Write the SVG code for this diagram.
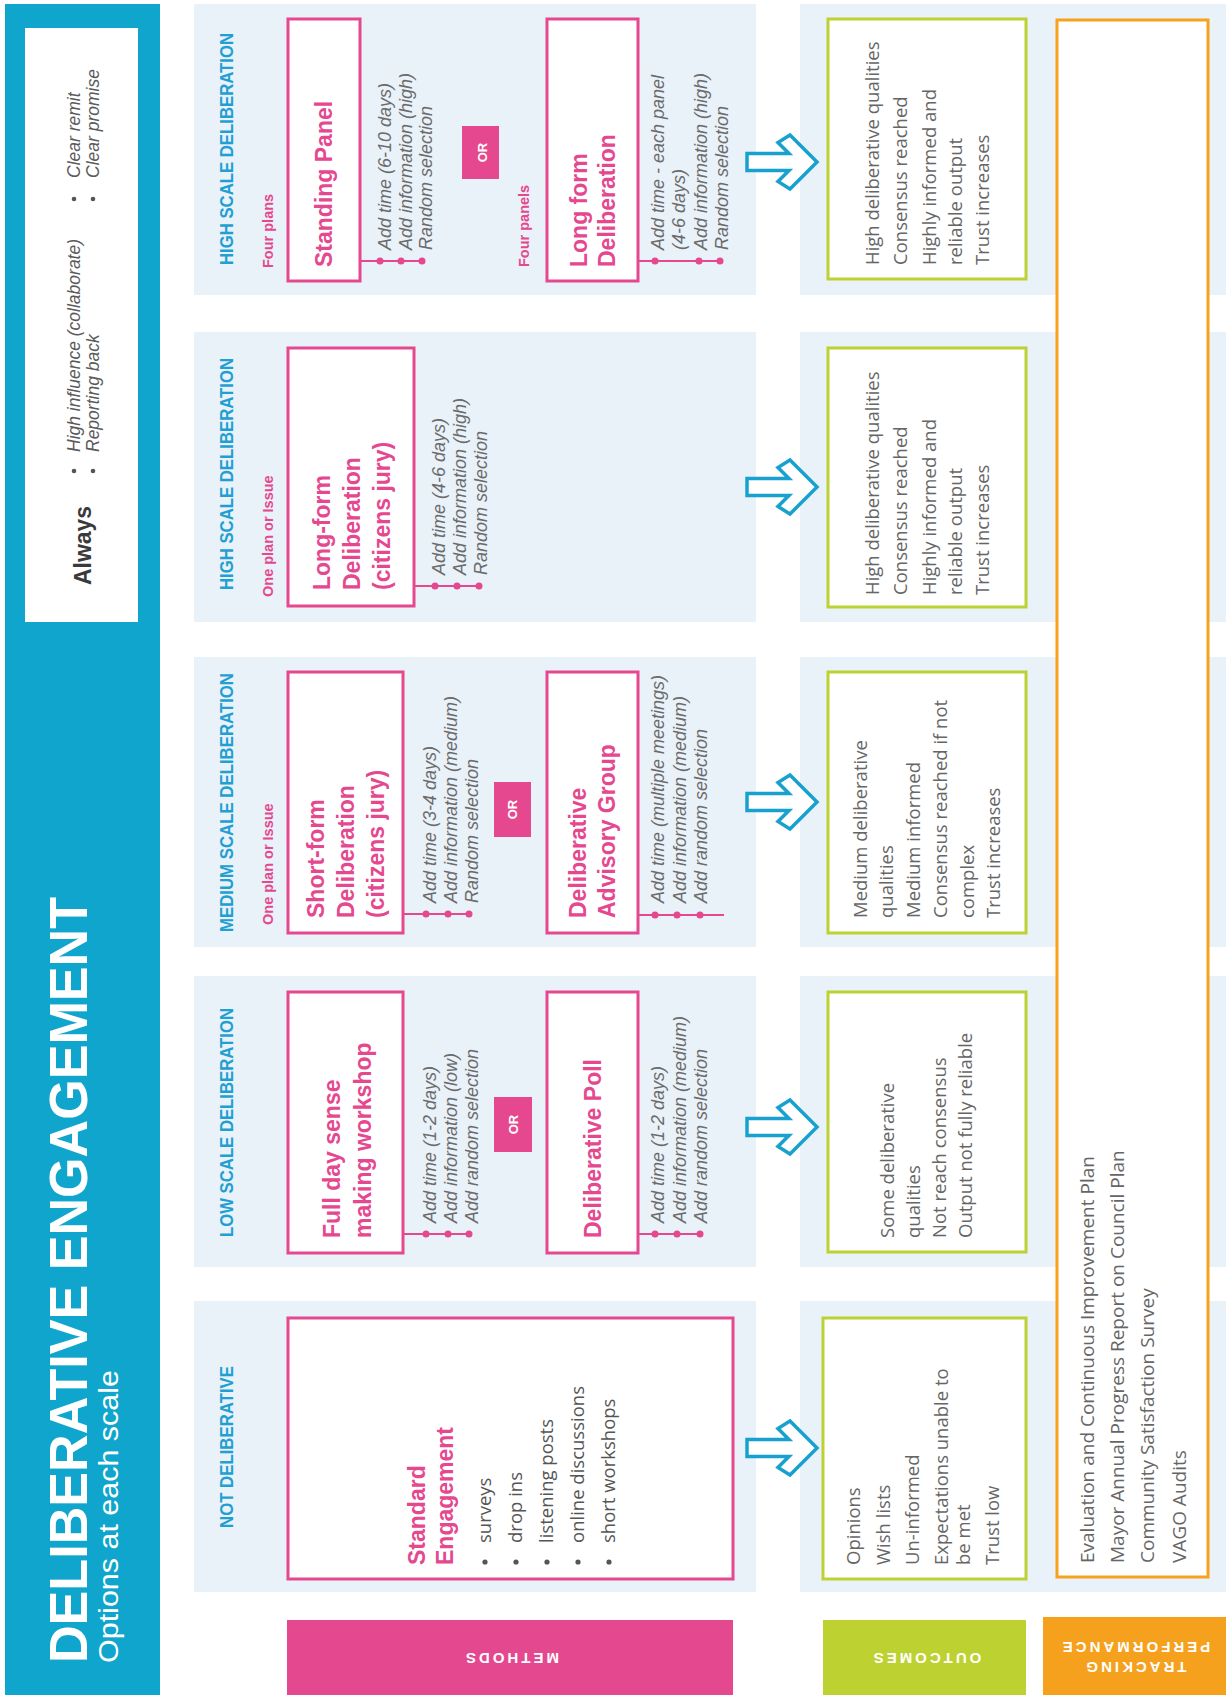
<svg xmlns="http://www.w3.org/2000/svg" width="1226" height="1695" viewBox="0 0 1226 1695">
<defs>
<style>
.panel{fill:#e9f1f9}
.mbox{fill:#fff;stroke:#e5488f;stroke-width:3}
.obox{fill:#fff;stroke:#bcd232;stroke-width:3}
.tbox{fill:#fff;stroke:#f7a21d;stroke-width:3}
.lbl{font-family:"Liberation Sans",Arial,sans-serif;font-weight:bold;font-size:18px;fill:#1f9fd2}
.sub{font-family:"Liberation Sans",Arial,sans-serif;font-weight:bold;font-size:14.5px;fill:#e5488f}
.mt{font-family:"Liberation Sans",Arial,sans-serif;font-weight:bold;font-size:23px;fill:#e5488f}
.att{font-family:"Liberation Sans",Arial,sans-serif;font-style:italic;font-size:18px;fill:#6b6b6b}
.out{font-family:"Open Sans","Liberation Sans",sans-serif;font-size:18.5px;fill:#666}
.li{font-family:"Open Sans","Liberation Sans",sans-serif;font-size:18.5px;fill:#555}
.trk{font-family:"Open Sans","Liberation Sans",sans-serif;font-size:19px;fill:#666}
.alw{font-family:"Liberation Sans",Arial,sans-serif;font-style:italic;font-size:17.5px;fill:#5a5a5a}
.dot{fill:#e5488f}
.gdot{fill:#555}
.conn{stroke:#e5488f;stroke-width:2;fill:none}
.orb{fill:#e5488f}
.ort{font-family:"Liberation Sans",Arial,sans-serif;font-weight:bold;font-size:13px;fill:#fff;text-anchor:middle}
.arr{fill:#fff;stroke:#18a1cf;stroke-width:3.5;stroke-linejoin:miter}
.bar{font-family:"Liberation Sans",Arial,sans-serif;font-weight:bold;font-size:15px;fill:#fff;letter-spacing:3px;text-anchor:middle}
</style>
<path id="arrow" class="arr" d="M0,-8.5 H42 L31,-19.5 L43,-27 L70,0 L43,27 L31,19.5 L42,8.5 H0 Z"/>
</defs>
<rect x="0" y="0" width="1226" height="1695" fill="#fff"/>

<g id="title-bar">
<rect x="5" y="4" width="155" height="1691" fill="#10a5cc"/>
<text transform="translate(87,1663) rotate(-90)" font-family="Liberation Sans, Arial, sans-serif" font-weight="bold" font-size="54" fill="#fff" textLength="766" lengthAdjust="spacingAndGlyphs">DELIBERATIVE ENGAGEMENT</text>
<text transform="translate(118,1663) rotate(-90)" font-family="Liberation Sans, Arial, sans-serif" font-size="27" fill="#fff" textLength="293" lengthAdjust="spacingAndGlyphs">Options at each scale</text>
</g>

<g id="always">
<rect x="25" y="28" width="113" height="594" fill="#fff"/>
<text transform="translate(91,585) rotate(-90)" font-family="Liberation Sans, Arial, sans-serif" font-weight="bold" font-size="24" fill="#3a3a3a" textLength="79" lengthAdjust="spacingAndGlyphs">Always</text>
<circle class="gdot" cx="74" cy="471" r="2.3"/><circle class="gdot" cx="93" cy="471" r="2.3"/>
<circle class="gdot" cx="74" cy="199" r="2.3"/><circle class="gdot" cx="93" cy="199" r="2.3"/>
<text class="alw" transform="translate(80,452) rotate(-90)"><tspan x="0" y="0">High influence (collaborate)</tspan><tspan x="0" y="19">Reporting back</tspan></text>
<text class="alw" transform="translate(80,178) rotate(-90)"><tspan x="0" y="0">Clear remit</tspan><tspan x="0" y="19">Clear promise</tspan></text>
</g>

<g id="panels">
<rect class="panel" x="194" y="4" width="562" height="291"/>
<rect class="panel" x="194" y="332" width="562" height="290"/>
<rect class="panel" x="194" y="657" width="562" height="290"/>
<rect class="panel" x="194" y="976" width="562" height="291"/>
<rect class="panel" x="194" y="1301" width="562" height="291"/>
<rect class="panel" x="800" y="4" width="426" height="291"/>
<rect class="panel" x="800" y="332" width="426" height="290"/>
<rect class="panel" x="800" y="657" width="426" height="290"/>
<rect class="panel" x="800" y="976" width="426" height="291"/>
<rect class="panel" x="800" y="1301" width="426" height="291"/>
</g>

<g id="row-labels">
<text class="lbl" transform="translate(233,265) rotate(-90)" textLength="232" lengthAdjust="spacingAndGlyphs">HIGH SCALE DELIBERATION</text>
<text class="sub" transform="translate(273,268) rotate(-90)">Four plans</text>
<text class="sub" transform="translate(529,267) rotate(-90)">Four panels</text>
<text class="lbl" transform="translate(233,590) rotate(-90)" textLength="232" lengthAdjust="spacingAndGlyphs">HIGH SCALE DELIBERATION</text>
<text class="sub" transform="translate(273,597) rotate(-90)">One plan or Issue</text>
<text class="lbl" transform="translate(233,932) rotate(-90)" textLength="259" lengthAdjust="spacingAndGlyphs">MEDIUM SCALE DELIBERATION</text>
<text class="sub" transform="translate(273,925) rotate(-90)">One plan or Issue</text>
<text class="lbl" transform="translate(233,1237) rotate(-90)" textLength="229" lengthAdjust="spacingAndGlyphs">LOW SCALE DELIBERATION</text>
<text class="lbl" transform="translate(233,1528) rotate(-90)" textLength="162" lengthAdjust="spacingAndGlyphs">NOT DELIBERATIVE</text>
</g>

<g id="standing-panel">
<rect class="mbox" x="288" y="19" width="72" height="262"/>
<text class="mt" transform="translate(332,267) rotate(-90)">Standing Panel</text>
<text class="att" transform="translate(391,250) rotate(-90)"><tspan x="0" y="0">Add time (6-10 days)</tspan><tspan x="0" y="20.5">Add information (high)</tspan><tspan x="0" y="41">Random selection</tspan></text>
</g>
<g id="or-high">
<rect class="orb" x="462" y="126" width="37" height="53"/>
<text class="ort" transform="translate(487,152.5) rotate(-90)">OR</text>
</g>
<g id="long-form-deliberation">
<rect class="mbox" x="547" y="19" width="91" height="262"/>
<text class="mt" transform="translate(587,267) rotate(-90)"><tspan x="0" y="0">Long form</tspan><tspan x="0" y="28">Deliberation</tspan></text>
<text class="att" transform="translate(664,250) rotate(-90)"><tspan x="0" y="0">Add time - each panel</tspan><tspan x="0" y="21">(4-6 days)</tspan><tspan x="0" y="43">Add information (high)</tspan><tspan x="0" y="64">Random selection</tspan></text>
</g>

<g id="long-form-citizens-jury">
<rect class="mbox" x="288" y="348" width="126" height="258"/>
<text class="mt" transform="translate(330,590) rotate(-90)"><tspan x="0" y="0">Long-form</tspan><tspan x="0" y="30">Deliberation</tspan><tspan x="0" y="60">(citizens jury)</tspan></text>
<text class="att" transform="translate(445,575) rotate(-90)"><tspan x="0" y="0">Add time (4-6 days)</tspan><tspan x="0" y="21">Add information (high)</tspan><tspan x="0" y="42">Random selection</tspan></text>
</g>

<g id="short-form-citizens-jury">
<rect class="mbox" x="288" y="672" width="115" height="261"/>
<text class="mt" transform="translate(324,918) rotate(-90)"><tspan x="0" y="0">Short-form</tspan><tspan x="0" y="30">Deliberation</tspan><tspan x="0" y="60">(citizens jury)</tspan></text>
<text class="att" transform="translate(436,903) rotate(-90)"><tspan x="0" y="0">Add time (3-4 days)</tspan><tspan x="0" y="21">Add information (medium)</tspan><tspan x="0" y="42">Random selection</tspan></text>
</g>
<g id="or-medium">
<rect class="orb" x="494" y="782" width="37" height="55"/>
<text class="ort" transform="translate(517,809.5) rotate(-90)">OR</text>
</g>
<g id="deliberative-advisory-group">
<rect class="mbox" x="547" y="672" width="91" height="261"/>
<text class="mt" transform="translate(586,918) rotate(-90)"><tspan x="0" y="0">Deliberative</tspan><tspan x="0" y="29">Advisory Group</tspan></text>
<text class="att" transform="translate(664,903) rotate(-90)"><tspan x="0" y="0">Add time (multiple meetings)</tspan><tspan x="0" y="22">Add information (medium)</tspan><tspan x="0" y="43">Add random selection</tspan></text>
</g>

<g id="full-day-workshop">
<rect class="mbox" x="288" y="992" width="115" height="261"/>
<text class="mt" transform="translate(340,1238) rotate(-90)"><tspan x="0" y="0">Full day sense</tspan><tspan x="0" y="31">making workshop</tspan></text>
<text class="att" transform="translate(436,1223) rotate(-90)"><tspan x="0" y="0">Add time (1-2 days)</tspan><tspan x="0" y="21">Add information (low)</tspan><tspan x="0" y="42">Add random selection</tspan></text>
</g>
<g id="or-low">
<rect class="orb" x="494" y="1097" width="38" height="55"/>
<text class="ort" transform="translate(518,1124.5) rotate(-90)">OR</text>
</g>
<g id="deliberative-poll">
<rect class="mbox" x="547" y="992" width="91" height="261"/>
<text class="mt" transform="translate(601,1238) rotate(-90)">Deliberative Poll</text>
<text class="att" transform="translate(664,1223) rotate(-90)"><tspan x="0" y="0">Add time (1-2 days)</tspan><tspan x="0" y="22">Add information (medium)</tspan><tspan x="0" y="43">Add random selection</tspan></text>
</g>

<g id="standard-engagement">
<rect class="mbox" x="288" y="1318" width="445" height="261"/>
<text class="mt" transform="translate(425,1565) rotate(-90)"><tspan x="0" y="0">Standard</tspan><tspan x="0" y="28">Engagement</tspan></text>
<circle class="gdot" cx="485" cy="1562" r="2.6"/><circle class="gdot" cx="516" cy="1562" r="2.6"/><circle class="gdot" cx="547" cy="1562" r="2.6"/><circle class="gdot" cx="578" cy="1562" r="2.6"/><circle class="gdot" cx="609" cy="1562" r="2.6"/>
<text class="li" transform="translate(491,1543) rotate(-90)"><tspan x="0" y="0">surveys</tspan><tspan x="0" y="31">drop ins</tspan><tspan x="0" y="62">listening posts</tspan><tspan x="0" y="93">online discussions</tspan><tspan x="0" y="124">short workshops</tspan></text>
</g>

<g id="connectors">
<path class="conn" d="M360,261H424 M638,261H720 M414,586H479 M403,914H469 M638,915H724 M403,1234H469 M638,1234H700"/>
<circle class="dot" cx="380" cy="261" r="3.5"/><circle class="dot" cx="401" cy="261" r="3.5"/><circle class="dot" cx="422" cy="261" r="3.5"/>
<circle class="dot" cx="655" cy="261" r="3.5"/><circle class="dot" cx="699" cy="261" r="3.5"/><circle class="dot" cx="720" cy="261" r="3.5"/>
<circle class="dot" cx="435" cy="586" r="3.5"/><circle class="dot" cx="457" cy="586" r="3.5"/><circle class="dot" cx="479" cy="586" r="3.5"/>
<circle class="dot" cx="426" cy="914" r="3.5"/><circle class="dot" cx="448" cy="914" r="3.5"/><circle class="dot" cx="469" cy="914" r="3.5"/>
<circle class="dot" cx="655" cy="915" r="3.5"/><circle class="dot" cx="677" cy="915" r="3.5"/><circle class="dot" cx="700" cy="915" r="3.5"/>
<circle class="dot" cx="426" cy="1234" r="3.5"/><circle class="dot" cx="448" cy="1234" r="3.5"/><circle class="dot" cx="469" cy="1234" r="3.5"/>
<circle class="dot" cx="655" cy="1234" r="3.5"/><circle class="dot" cx="677" cy="1234" r="3.5"/><circle class="dot" cx="700" cy="1234" r="3.5"/>
<use href="#arrow" x="747" y="162"/>
<use href="#arrow" x="747" y="487"/>
<use href="#arrow" x="747" y="802"/>
<use href="#arrow" x="747" y="1127"/>
<use href="#arrow" x="747" y="1448"/>
</g>

<g id="tracking-box">
<rect class="tbox" x="1057" y="20" width="151" height="1557"/>
<text class="trk" transform="translate(1094,1563) rotate(-90)"><tspan x="0" y="0">Evaluation and Continuous Improvement Plan</tspan><tspan x="0" y="30">Mayor Annual Progress Report on Council Plan</tspan><tspan x="0" y="60">Community Satisfaction Survey</tspan><tspan x="0" y="92">VAGO Audits</tspan></text>
</g>

<g id="outcome-high-four">
<rect class="obox" x="828" y="19" width="198" height="260"/>
<text class="out" transform="translate(879,265) rotate(-90)"><tspan x="0" y="0">High deliberative qualities</tspan><tspan x="0" y="28">Consensus reached</tspan><tspan x="0" y="57">Highly informed and</tspan><tspan x="0" y="83">reliable output</tspan><tspan x="0" y="110">Trust increases</tspan></text>
</g>
<g id="outcome-high-one">
<rect class="obox" x="828" y="348" width="198" height="259"/>
<text class="out" transform="translate(879,595) rotate(-90)"><tspan x="0" y="0">High deliberative qualities</tspan><tspan x="0" y="28">Consensus reached</tspan><tspan x="0" y="57">Highly informed and</tspan><tspan x="0" y="83">reliable output</tspan><tspan x="0" y="110">Trust increases</tspan></text>
</g>
<g id="outcome-medium">
<rect class="obox" x="828" y="672" width="198" height="261"/>
<text class="out" transform="translate(867,918) rotate(-90)"><tspan x="0" y="0">Medium deliberative</tspan><tspan x="0" y="26">qualities</tspan><tspan x="0" y="53">Medium informed</tspan><tspan x="0" y="80">Consensus reached if not</tspan><tspan x="0" y="107">complex</tspan><tspan x="0" y="133">Trust increases</tspan></text>
</g>
<g id="outcome-low">
<rect class="obox" x="828" y="992" width="198" height="260"/>
<text class="out" transform="translate(894,1238) rotate(-90)"><tspan x="0" y="0">Some deliberative</tspan><tspan x="0" y="26">qualities</tspan><tspan x="0" y="52">Not reach consensus</tspan><tspan x="0" y="78">Output not fully reliable</tspan></text>
</g>
<g id="outcome-not">
<rect class="obox" x="823" y="1318" width="203" height="261"/>
<text class="out" transform="translate(860,1565) rotate(-90)"><tspan x="0" y="0">Opinions</tspan><tspan x="0" y="30">Wish lists</tspan><tspan x="0" y="59">Un-informed</tspan><tspan x="0" y="88">Expectations unable to</tspan><tspan x="0" y="110">be met</tspan><tspan x="0" y="139">Trust low</tspan></text>
</g>

<g id="legend-methods">
<rect x="287" y="1620" width="446" height="75" fill="#e4488f"/>
<text class="bar" transform="translate(511,1658) rotate(180)" y="5.5">METHODS</text>
</g>
<g id="legend-outcomes">
<rect x="823" y="1620" width="203" height="75" fill="#bdd231"/>
<text class="bar" transform="translate(926,1658) rotate(180)" y="5.5">OUTCOMES</text>
</g>
<g id="legend-tracking">
<rect x="1043" y="1617" width="183" height="78" fill="#f6a11e"/>
<text class="bar" transform="translate(1135,1657) rotate(180)"><tspan x="0" y="-5">TRACKING</tspan><tspan x="0" y="15">PERFORMANCE</tspan></text>
</g>
</svg>
